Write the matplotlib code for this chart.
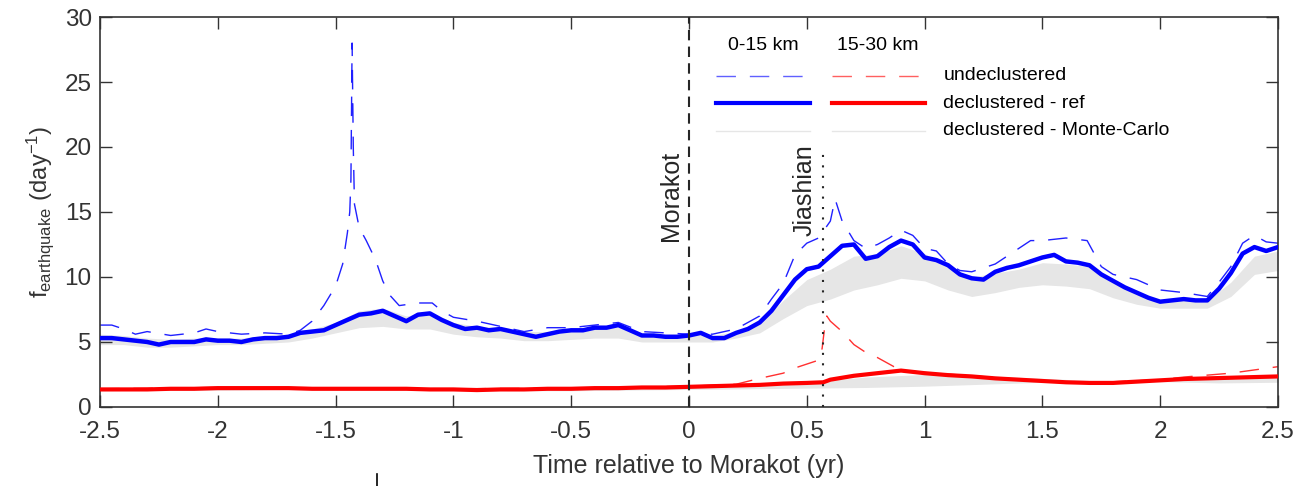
import numpy as np
import matplotlib
matplotlib.use('Agg')
import matplotlib.pyplot as plt
from matplotlib.lines import Line2D
from matplotlib.ticker import FuncFormatter

plt.rcParams['font.family'] = ['Liberation Sans', 'DejaVu Sans']

# declustered - ref, 0-15 km
t_ref = np.round(np.arange(-2.5, 2.5001, 0.05), 2)
blue_ref = [5.3, 5.3, 5.2, 5.1, 5.0, 4.8, 5.0, 5.0, 5.0, 5.2,
            5.1, 5.1, 5.0, 5.2, 5.3, 5.3, 5.4, 5.7, 5.8, 5.9,
            6.3, 6.7, 7.1, 7.2, 7.4, 7.0, 6.6, 7.1, 7.2, 6.7,
            6.3, 6.0, 6.1, 5.9, 6.0, 5.8, 5.6, 5.4, 5.6, 5.8,
            5.9, 5.9, 6.1, 6.1, 6.3, 5.9, 5.5, 5.5, 5.4, 5.4,
            5.5, 5.7, 5.3, 5.3, 5.7, 6.0, 6.5, 7.4, 8.6, 9.8,
            10.6, 10.8, 11.6, 12.4, 12.5, 11.4, 11.6, 12.3, 12.8, 12.5,
            11.5, 11.3, 10.9, 10.2, 9.9, 9.8, 10.4, 10.7, 10.9, 11.2,
            11.5, 11.7, 11.2, 11.1, 10.9, 10.2, 9.7, 9.2, 8.8, 8.4,
            8.1, 8.2, 8.3, 8.2, 8.2, 9.1, 10.3, 11.8, 12.3, 12.0, 12.3]

# undeclustered, 0-15 km
t_blue_und = [-2.5, -2.45, -2.4, -2.35, -2.3, -2.2, -2.1, -2.05, -2.0, -1.9,
              -1.8, -1.7, -1.65, -1.6, -1.55, -1.5, -1.47, -1.45, -1.44, -1.435,
              -1.43, -1.425, -1.42, -1.4, -1.37, -1.33, -1.3, -1.27, -1.23, -1.15,
              -1.09, -1.05, -1.0, -0.9, -0.8, -0.7, -0.6, -0.5, -0.4, -0.3,
              -0.2, -0.1, 0.0, 0.1, 0.2, 0.3, 0.35, 0.4, 0.45, 0.5,
              0.55, 0.6, 0.62, 0.65, 0.7, 0.75, 0.8, 0.85, 0.9, 0.95,
              1.0, 1.05, 1.1, 1.15, 1.2, 1.3, 1.4, 1.45, 1.5, 1.6,
              1.69, 1.75, 1.8, 1.9, 2.0, 2.1, 2.2, 2.25, 2.3, 2.35,
              2.4, 2.45, 2.5]
blue_und = [6.3, 6.3, 6.0, 5.6, 5.8, 5.5, 5.7, 6.0, 5.8, 5.6,
            5.7, 5.6, 5.9, 6.6, 7.8, 9.3, 11.0, 13.4, 15.0, 17.5,
            28.0, 20.0, 15.6, 13.8, 12.8, 11.3, 9.7, 8.6, 7.8, 8.0,
            8.0, 7.4, 6.9, 6.6, 6.2, 5.8, 6.1, 6.1, 6.3, 6.5,
            5.8, 5.7, 5.6, 5.6, 6.0, 7.0, 8.3, 9.5, 11.7, 12.6,
            13.0, 14.3, 16.0, 14.3, 12.8, 12.2, 12.5, 13.0, 13.6, 13.2,
            12.2, 12.0, 11.0, 10.5, 10.4, 11.0, 12.2, 12.8, 12.8, 13.0,
            12.8, 10.8, 10.2, 9.8, 9.0, 8.8, 8.5, 9.6, 10.8, 12.6,
            13.2, 12.7, 12.6]

# declustered - Monte-Carlo spread, 0-15 km
t_mc = np.round(np.arange(-2.5, 2.5001, 0.1), 1)
blue_mc_lo = [4.8, 4.8, 4.6, 4.6, 4.7, 4.8, 4.8, 4.9, 5.0, 5.3,
              5.7, 6.1, 6.2, 6.0, 6.0, 5.6, 5.4, 5.3, 5.1, 5.1,
              5.2, 5.3, 5.3, 5.0, 5.0, 5.0, 5.0, 5.3, 5.7, 6.8,
              7.8, 8.3, 9.0, 9.4, 9.9, 9.7, 9.0, 8.5, 8.8, 9.2,
              9.4, 9.3, 9.1, 8.4, 7.9, 7.6, 7.6, 7.6, 8.5, 10.2, 10.5]
blue_mc_hi = [5.6, 5.5, 5.3, 5.2, 5.3, 5.3, 5.3, 5.5, 5.6, 6.0,
              6.5, 7.4, 7.6, 7.0, 7.3, 6.5, 6.2, 6.1, 5.8, 5.8,
              6.0, 6.1, 6.2, 5.7, 5.6, 5.6, 5.5, 5.8, 6.4, 8.2,
              9.8, 10.6, 11.6, 11.8, 12.4, 11.8, 10.8, 10.0, 10.3, 10.6,
              11.1, 11.0, 10.8, 9.6, 8.8, 8.2, 8.3, 8.2, 9.6, 11.6, 12.0]

# 15-30 km
t_red = [-2.5, -2.4, -2.3, -2.2, -2.1, -2.0, -1.9, -1.8, -1.7, -1.6,
         -1.5, -1.4, -1.3, -1.2, -1.1, -1.0, -0.9, -0.8, -0.7, -0.6,
         -0.5, -0.4, -0.3, -0.2, -0.1, 0.0, 0.1, 0.2, 0.3, 0.4,
         0.5, 0.57, 0.6, 0.7, 0.8, 0.9, 1.0, 1.1, 1.2, 1.3,
         1.4, 1.5, 1.6, 1.7, 1.8, 1.9, 2.0, 2.1, 2.2, 2.3, 2.4, 2.5]
red_ref = [1.35, 1.35, 1.35, 1.4, 1.4, 1.45, 1.45, 1.45, 1.45, 1.4,
           1.4, 1.4, 1.4, 1.4, 1.35, 1.35, 1.3, 1.35, 1.35, 1.4,
           1.4, 1.45, 1.45, 1.5, 1.5, 1.55, 1.6, 1.65, 1.7, 1.8,
           1.85, 1.9, 2.1, 2.4, 2.6, 2.8, 2.6, 2.45, 2.35, 2.2,
           2.1, 2.0, 1.9, 1.85, 1.85, 1.95, 2.05, 2.15, 2.2, 2.25, 2.3, 2.35]

t_red_und = [-2.5, -2.0, -1.5, -1.0, -0.5, 0.0, 0.2, 0.3, 0.4, 0.45,
             0.5, 0.55, 0.565, 0.575, 0.585, 0.6, 0.65, 0.7, 0.75, 0.8,
             0.87, 0.9, 1.0, 1.2, 1.5, 1.75, 2.0, 2.1, 2.3, 2.5]
red_und = [1.4, 1.5, 1.45, 1.4, 1.45, 1.6, 1.75, 2.2, 2.6, 3.0,
           3.3, 3.6, 4.5, 6.0, 7.0, 6.6, 5.8, 4.8, 4.2, 3.8,
           3.1, 2.85, 2.65, 2.4, 2.0, 1.9, 2.1, 2.3, 2.6, 3.1]

t_red_mc = np.arange(-2.5, 2.5001, 0.25)
red_mc_lo = [1.25, 1.3, 1.3, 1.35, 1.35, 1.3, 1.3, 1.25, 1.25, 1.3, 1.35,
             1.4, 1.45, 1.5, 1.6, 1.75, 1.9, 2.0, 1.95, 1.85, 1.9]
red_mc_hi = [1.45, 1.5, 1.55, 1.55, 1.55, 1.5, 1.5, 1.45, 1.5, 1.55, 1.6,
             1.7, 1.9, 2.3, 2.5, 2.4, 2.2, 2.0, 2.05, 2.2, 2.35]

t_jiashian = 0.57
axcol = '#333333'
mc_col = '#e6e6e6'

fig = plt.figure(figsize=(13.11, 4.86), dpi=100)
ax = fig.add_axes([0.0763, 0.1626, 0.8985, 0.8024])

ax.fill_between(t_mc, blue_mc_lo, blue_mc_hi, color=mc_col, lw=0, zorder=1)
ax.fill_between(t_red_mc, red_mc_lo, red_mc_hi, color=mc_col, lw=0, zorder=1)

ax.plot(t_blue_und, blue_und, color='#2020ff', lw=1.0, ls=(0, (14, 10)), zorder=2)
ax.plot(t_red_und, red_und, color='#ff3030', lw=1.0, ls=(0, (14, 10)), zorder=2)
ax.plot(t_ref, blue_ref, color='blue', lw=3.2, zorder=3)
ax.plot(t_red, red_ref, color='red', lw=3.0, zorder=3)

ax.axvline(0, color='#262626', lw=1.5, ls=(0, (5, 3)), zorder=4)
ax.plot([t_jiashian, t_jiashian], [0, 20], color='#262626', lw=1.5,
        ls=(0, (1, 4)), zorder=4)
ax.text(-0.025, 19.7, 'Morakot', rotation=90, ha='right', va='top',
        fontsize=18, color='#262626')
ax.text(0.54, 20.2, 'Jiashian', rotation=90, ha='right', va='top',
        fontsize=18, color='#262626')

# legend drawn by hand (two column headers)
tr = ax.transAxes
ax.text(0.563, 0.928, '0-15 km', transform=tr, ha='center', va='center', fontsize=14)
ax.text(0.660, 0.928, '15-30 km', transform=tr, ha='center', va='center', fontsize=14)
rows = [0.849, 0.779, 0.708]
ax.plot([0.523, 0.603], [rows[0]] * 2, transform=tr, color='#6060ff', lw=1.0, ls=(0, (14, 10)))
ax.plot([0.621, 0.700], [rows[0]] * 2, transform=tr, color='#ff6060', lw=1.0, ls=(0, (14, 10)))
ax.plot([0.523, 0.603], [rows[1]] * 2, transform=tr, color='blue', lw=3.0)
ax.plot([0.621, 0.700], [rows[1]] * 2, transform=tr, color='red', lw=3.0)
ax.plot([0.523, 0.603], [rows[2]] * 2, transform=tr, color=mc_col, lw=1.0)
ax.plot([0.621, 0.700], [rows[2]] * 2, transform=tr, color=mc_col, lw=1.0)
for y, lab in zip(rows, ['undeclustered', 'declustered - ref', 'declustered - Monte-Carlo']):
    ax.text(0.716, y, lab, transform=tr, ha='left', va='center', fontsize=14)

ax.set_xlim(-2.5, 2.5)
ax.set_ylim(0, 30)
ax.set_xticks(np.arange(-2.5, 2.51, 0.5))
ax.set_yticks(np.arange(0, 31, 5))
ax.xaxis.set_major_formatter(FuncFormatter(lambda v, p: '%g' % round(v, 2)))
ax.tick_params(direction='in', length=8.5, width=1.0, top=True, right=True,
               labelsize=17.5, colors=axcol)
ax.tick_params(axis='x', pad=10)
ax.tick_params(axis='y', pad=6)
for s in ax.spines.values():
    s.set_color(axcol)
    s.set_linewidth(1.2)

ax.set_xlabel('Time relative to Morakot (yr)', fontsize=18, color=axcol, labelpad=8)
ax.set_ylabel(r'$\mathregular{f_{earthquake}\ (day^{-1})}$', fontsize=17,
              color=axcol, labelpad=6)

fig.add_artist(Line2D([377 / 1311, 377 / 1311], [0.0, 12 / 486], color='black', lw=1.2))

fig.savefig('out.png', dpi=100)
